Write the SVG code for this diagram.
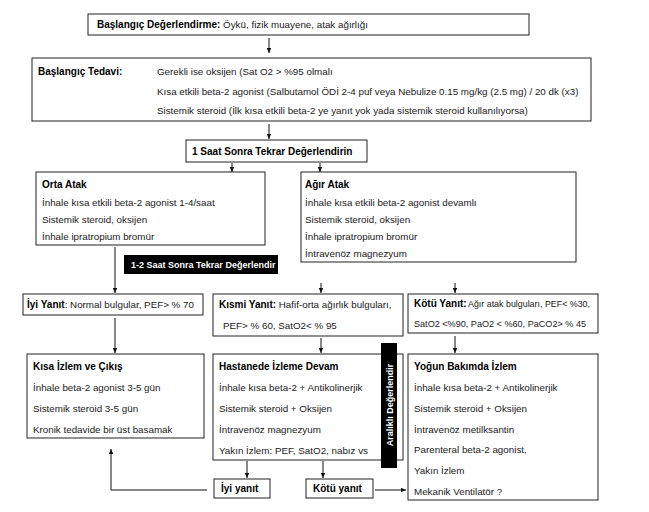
<svg xmlns="http://www.w3.org/2000/svg" width="649" height="512" viewBox="0 0 649 512">
<defs>
<marker id="ah" markerWidth="5" markerHeight="5" refX="5" refY="2.25" orient="auto" markerUnits="userSpaceOnUse">
<path d="M0,0 L5,2.25 L0,4.5 z" fill="#111"/>
</marker>
<style>
.box{fill:#fff;stroke:#222;stroke-width:1}
.blk{fill:#000}
.t{font-family:"Liberation Sans",Arial,sans-serif;font-size:9.8px;fill:#1a1a1a}
.b{font-family:"Liberation Sans",Arial,sans-serif;font-size:10px;font-weight:bold;fill:#000}
.w{font-family:"Liberation Sans",Arial,sans-serif;font-size:9px;font-weight:bold;fill:#fff}
.c{fill:none;stroke:#111;stroke-width:1}
</style>
</defs>
<rect width="649" height="512" fill="#fff"/>

<g id="connectors">
<line class="c" x1="269" y1="38" x2="269" y2="53" marker-end="url(#ah)"/>
<line class="c" x1="269" y1="124" x2="269" y2="139" marker-end="url(#ah)"/>
<line class="c" x1="232" y1="163" x2="232" y2="172" marker-end="url(#ah)"/>
<line class="c" x1="320" y1="163" x2="320" y2="172" marker-end="url(#ah)"/>
<line class="c" x1="115" y1="247" x2="115" y2="293" marker-end="url(#ah)"/>
<line class="c" x1="321" y1="283" x2="321" y2="293" marker-end="url(#ah)"/>
<line class="c" x1="455" y1="283" x2="455" y2="293" marker-end="url(#ah)"/>
<line class="c" x1="115" y1="318" x2="115" y2="353" marker-end="url(#ah)"/>
<line class="c" x1="321" y1="338" x2="321" y2="353" marker-end="url(#ah)"/>
<line class="c" x1="455" y1="336" x2="455" y2="353" marker-end="url(#ah)"/>
<line class="c" x1="247" y1="461" x2="247" y2="478" marker-end="url(#ah)"/>
<line class="c" x1="323" y1="461" x2="323" y2="478" marker-end="url(#ah)"/>
<line class="c" x1="375" y1="490" x2="406" y2="490" marker-end="url(#ah)"/>
<path class="c" d="M207,490 H111 V449" marker-end="url(#ah)"/>
</g>

<g id="baslangic-degerlendirme">
<rect class="box" x="88" y="14" width="441" height="21"/>
<text x="97" y="28"><tspan class="b">Başlangıç Değerlendirme:</tspan><tspan class="t"> Öykü, fizik muayene, atak ağırlığı</tspan></text>
</g>

<g id="baslangic-tedavi">
<rect class="box" x="32" y="58" width="559" height="63"/>
<text class="b" x="38" y="75">Başlangıç Tedavi:</text>
<text class="t" x="157" y="75">Gerekli ise oksijen (Sat O2 &gt; %95 olmalı</text>
<text class="t" x="157" y="95">Kısa etkili beta-2 agonist (Salbutamol ÖDİ 2-4 puf veya Nebulize 0.15 mg/kg  (2.5 mg) / 20 dk (x3)</text>
<text class="t" x="157" y="114">Sistemik steroid (İlk kısa etkili beta-2 ye yanıt yok yada sistemik steroid kullanılıyorsa)</text>
</g>

<g id="bir-saat">
<rect class="box" x="186" y="140" width="181" height="22"/>
<text class="b" x="192" y="155">1 Saat Sonra Tekrar Değerlendirin</text>
</g>

<g id="orta-atak">
<rect class="box" x="36" y="172" width="229" height="73"/>
<text class="b" x="42" y="188">Orta Atak</text>
<text class="t" x="42" y="206">İnhale kısa etkili beta-2 agonist 1-4/saat</text>
<text class="t" x="42" y="223">Sistemik steroid, oksijen</text>
<text class="t" x="42" y="240">İnhale ipratropium bromür</text>
</g>

<g id="agir-atak">
<rect class="box" x="301" y="172" width="275" height="90"/>
<text class="b" x="305" y="188">Ağır Atak</text>
<text class="t" x="305" y="206">İnhale kısa etkili beta-2 agonist devamlı</text>
<text class="t" x="305" y="223">Sistemik steroid, oksijen</text>
<text class="t" x="305" y="240">İnhale ipratropium bromür</text>
<text class="t" x="305" y="257">İntravenöz magnezyum</text>
</g>

<g id="iki-saat">
<rect class="blk" x="124" y="255" width="154" height="19"/>
<text class="w" x="131" y="268">1-2 Saat Sonra Tekrar Değerlendir</text>
</g>

<g id="iyi-yanit-1">
<rect class="box" x="23" y="294" width="180" height="21"/>
<text x="27" y="308"><tspan class="b">İyi Yanıt</tspan><tspan class="t">: Normal bulgular, PEF&gt; % 70</tspan></text>
</g>

<g id="kismi-yanit">
<rect class="box" x="213" y="294" width="190" height="42"/>
<text x="219" y="308"><tspan class="b">Kısmi Yanıt:</tspan><tspan class="t"> Hafif-orta ağırlık bulguları,</tspan></text>
<text class="t" x="223" y="329">PEF&gt; % 60, SatO2&lt; % 95</text>
</g>

<g id="kotu-yanit-1">
<rect class="box" x="408" y="294" width="190" height="39"/>
<text class="b" x="414" y="307">Kötü Yanıt:</text>
<text class="t" x="468" y="307" textLength="122" lengthAdjust="spacingAndGlyphs">Ağır atak bulguları, PEF&lt; %30,</text>
<text class="t" x="414" y="327" textLength="172" lengthAdjust="spacingAndGlyphs">SatO2 &lt;%90, PaO2 &lt; %60, PaCO2&gt; % 45</text>
</g>

<g id="kisa-izlem">
<rect class="box" x="27" y="354" width="177" height="84"/>
<text class="b" x="33" y="370">Kısa İzlem ve Çıkış</text>
<text class="t" x="33" y="391">İnhale beta-2 agonist 3-5 gün</text>
<text class="t" x="33" y="412">Sistemik steroid 3-5 gün</text>
<text class="t" x="33" y="433">Kronik tedavide bir üst basamak</text>
</g>

<g id="hastanede">
<rect class="box" x="213" y="354" width="190" height="106"/>
<text class="b" x="219" y="370">Hastanede İzleme Devam</text>
<text class="t" x="219" y="391">İnhale kısa beta-2 + Antikolinerjik</text>
<text class="t" x="219" y="412">Sistemik steroid + Oksijen</text>
<text class="t" x="219" y="433">İntravenöz magnezyum</text>
<text class="t" x="219" y="454">Yakın İzlem: PEF, SatO2, nabız vs</text>
</g>

<g id="aralikli">
<rect class="blk" x="381" y="343" width="16" height="125"/>
<text class="w" x="0" y="0" text-anchor="middle" transform="translate(392.5,405) rotate(-90)">Aralıklı Değerlendir</text>
</g>

<g id="yogun-bakim">
<rect class="box" x="408" y="354" width="190" height="146"/>
<text class="b" x="414" y="370">Yoğun Bakımda İzlem</text>
<text class="t" x="414" y="391">İnhale kısa beta-2 + Antikolinerjik</text>
<text class="t" x="414" y="412">Sistemik steroid + Oksijen</text>
<text class="t" x="414" y="433">İntravenöz metilksantin</text>
<text class="t" x="414" y="453">Parenteral beta-2 agonist,</text>
<text class="t" x="414" y="474">Yakın İzlem</text>
<text class="t" x="414" y="495">Mekanik Ventilatör ?</text>
</g>

<g id="iyi-yanit-2">
<rect class="box" x="214" y="479" width="56" height="19"/>
<text class="b" x="221" y="492">İyi yanıt</text>
</g>

<g id="kotu-yanit-2">
<rect class="box" x="306" y="479" width="67" height="19"/>
<text class="b" x="313" y="492">Kötü yanıt</text>
</g>
</svg>
